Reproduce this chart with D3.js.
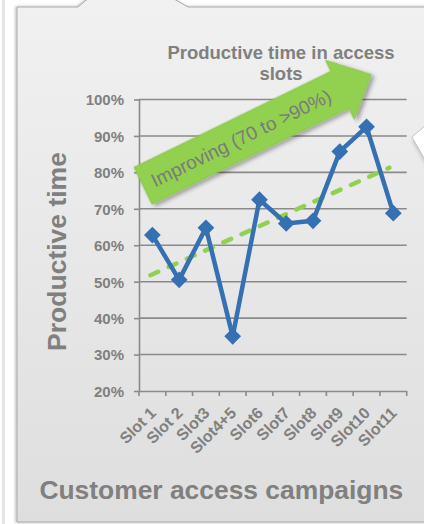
<!DOCTYPE html>
<html>
<head>
<meta charset="utf-8">
<script src="https://cdn.jsdelivr.net/npm/d3@7"></script>
<style>
  html, body { margin: 0; padding: 0; background: #ffffff; }
  svg { display: block; font-family: "Liberation Sans", Arial, sans-serif; }
</style>
</head>
<body>
<div id="chart"></div>
<script>
// Productive time per customer access slot
const categories = ["Slot 1", "Slot 2", "Slot3", "Slot4+5", "Slot6", "Slot7", "Slot8", "Slot9", "Slot10", "Slot11"];
const productive = [0.628, 0.505, 0.648, 0.35, 0.725, 0.66, 0.667, 0.857, 0.925, 0.688];
const yTicks = [0.2, 0.3, 0.4, 0.5, 0.6, 0.7, 0.8, 0.9, 1.0];
const titleLines = ["Productive time in access", "slots"];
const yTitle = "Productive time";
const xTitle = "Customer access campaigns";
const arrowText = "Improving (70 to >90%)";

const W = 424, H = 524;
const textGrey = "#808080";
const lineBlue = "#3470b2";
const green = "#92d050";

const svg = d3.select("#chart").append("svg").attr("width", W).attr("height", H);
const defs = svg.append("defs");

const grad = defs.append("linearGradient").attr("id", "panelGrad")
  .attr("x1", 0).attr("y1", 0).attr("x2", 0).attr("y2", 1);
grad.append("stop").attr("offset", "0%").attr("stop-color", "#f1f1f1");
grad.append("stop").attr("offset", "100%").attr("stop-color", "#dedede");

const shadow = defs.append("filter").attr("id", "shadow")
  .attr("x", "-20%").attr("y", "-20%").attr("width", "140%").attr("height", "140%");
shadow.append("feDropShadow").attr("dx", 2).attr("dy", 3).attr("stdDeviation", 2)
  .attr("flood-color", "#000").attr("flood-opacity", 0.35);

const panelShadow = defs.append("filter").attr("id", "panelShadow")
  .attr("x", "-10%").attr("y", "-10%").attr("width", "120%").attr("height", "120%");
panelShadow.append("feDropShadow").attr("dx", -1).attr("dy", 0).attr("stdDeviation", 1.5)
  .attr("flood-color", "#000").attr("flood-opacity", 0.3);

// neighbouring shape edge on the far left
svg.append("rect").attr("x", 2).attr("y", 0).attr("width", 3).attr("height", H)
  .attr("fill", "#e4e4e4");

// callout panel with a tail pointing up
svg.append("path")
  .attr("d", "M17,522 L17,7 L78,7 L87.5,-1 L174,-1 L188,7 L432,7 L432,522 Z")
  .attr("fill", "url(#panelGrad)")
  .attr("stroke", "#a9a9a9").attr("stroke-width", 1)
  .attr("filter", "url(#panelShadow)");

// white callout wedge on the right
svg.append("path")
  .attr("d", "M412,137 L432,120 L432,172 Z")
  .attr("fill", "#ffffff").attr("stroke", "#c4c4c4").attr("stroke-width", 1)
  .attr("filter", "url(#shadow)");

// scales
const x = d3.scaleBand().domain(categories).range([139, 406.7]).padding(0);
const y = d3.scaleLinear().domain([0.2, 1.0]).range([391, 99.5]);
const cx = d => x(d) + x.bandwidth() / 2;

// gridlines
svg.append("g").selectAll("line").data(yTicks.filter(t => t > 0.2)).join("line")
  .attr("x1", 139).attr("x2", 406.7)
  .attr("y1", d => y(d)).attr("y2", d => y(d))
  .attr("stroke", "#8a8a8a").attr("stroke-width", 1.6);

// y axis
const yAxis = svg.append("g").attr("transform", "translate(139,0)")
  .call(d3.axisLeft(y).tickValues(yTicks).tickFormat(d3.format(".0%"))
    .tickSize(5).tickSizeOuter(0).tickPadding(10));
yAxis.select(".domain").attr("stroke", "#8a8a8a").attr("stroke-width", 1.6);
yAxis.selectAll(".tick line").attr("stroke", "#8a8a8a").attr("stroke-width", 1.6);
yAxis.selectAll("text").attr("fill", textGrey).attr("font-size", 15)
  .attr("font-weight", "bold").attr("font-family", "Liberation Sans, Arial, sans-serif")
  .attr("dy", "0.36em");

// x axis
const xAxis = svg.append("g").attr("transform", "translate(0,391)")
  .call(d3.axisBottom(x).tickSize(0).tickSizeOuter(0).tickPadding(0));
xAxis.select(".domain").attr("stroke", "#8a8a8a").attr("stroke-width", 1.6);
xAxis.selectAll("text")
  .attr("fill", textGrey).attr("font-size", 16).attr("font-weight", "bold")
  .attr("font-family", "Liberation Sans, Arial, sans-serif")
  .attr("text-anchor", "end")
  .attr("y", 0).attr("dy", "0.71em")
  .attr("transform", "translate(-3.5,15) rotate(-45)");
// boundary tick marks between categories
const bounds = categories.map(c => x(c)).concat([x.range()[1]]);
svg.append("g").selectAll("line").data(bounds).join("line")
  .attr("x1", d => d).attr("x2", d => d).attr("y1", 391).attr("y2", 396)
  .attr("stroke", "#8a8a8a").attr("stroke-width", 1.6);

// linear trend line (least squares over slot index)
const n = productive.length;
const idx = d3.range(1, n + 1);
const mx = d3.mean(idx), my = d3.mean(productive);
const slope = d3.sum(idx, (v, i) => (v - mx) * (productive[i] - my)) / d3.sum(idx, v => (v - mx) ** 2);
const trendAt = i => my + slope * (i - mx);
svg.append("line")
  .attr("x1", cx(categories[0]) - 2).attr("y1", y(trendAt(1)))
  .attr("x2", cx(categories[n - 1]) - 4).attr("y2", y(trendAt(n)))
  .attr("stroke", green).attr("stroke-width", 4.5)
  .attr("stroke-linecap", "round").attr("stroke-dasharray", "8.5,11.5");

// series line and diamond markers
const line = d3.line().x((d, i) => cx(categories[i])).y(d => y(d));
svg.append("path").datum(productive)
  .attr("d", line).attr("fill", "none")
  .attr("stroke", lineBlue).attr("stroke-width", 4.5).attr("stroke-linejoin", "round");
svg.append("g").selectAll("path").data(productive).join("path")
  .attr("d", d3.symbol(d3.symbolSquare, 140))
  .attr("transform", (d, i) => `translate(${cx(categories[i])},${y(d)}) rotate(45)`)
  .attr("fill", lineBlue);

// chart title
svg.append("g").selectAll("text").data(titleLines).join("text")
  .attr("x", 281).attr("y", (d, i) => 58.5 + i * 21.5)
  .attr("text-anchor", "middle").attr("fill", textGrey)
  .attr("font-size", 18.5).attr("font-weight", "bold")
  .text(d => d);

// axis titles
svg.append("text")
  .attr("transform", "translate(66,251.5) rotate(-90)")
  .attr("text-anchor", "middle").attr("fill", textGrey)
  .attr("font-size", 26.5).attr("font-weight", "bold")
  .text(yTitle);
svg.append("text")
  .attr("x", 221.3).attr("y", 499)
  .attr("text-anchor", "middle").attr("fill", textGrey)
  .attr("font-size", 26.4).attr("font-weight", "bold")
  .text(xTitle);

// green block arrow annotation
const bodyLen = 219, bodyH = 41, headLen = 35, headOver = 12.5;
const arrowPath = [
  [0, 0], [bodyLen, 0], [bodyLen, -headOver], [bodyLen + headLen, bodyH / 2],
  [bodyLen, bodyH + headOver], [bodyLen, bodyH], [0, bodyH]
];
const arrow = svg.append("g").attr("transform", "translate(134,167.3) rotate(-26)");
arrow.append("path")
  .attr("d", d3.line()(arrowPath) + "Z")
  .attr("fill", green).attr("stroke", "#86c246").attr("stroke-width", 0.8)
  .attr("filter", "url(#shadow)");
arrow.append("text")
  .attr("x", 109).attr("y", bodyH / 2).attr("dy", "0.36em")
  .attr("text-anchor", "middle").attr("fill", "#7a7a7a")
  .attr("font-size", 19)
  .text(arrowText);
</script>
</body>
</html>
